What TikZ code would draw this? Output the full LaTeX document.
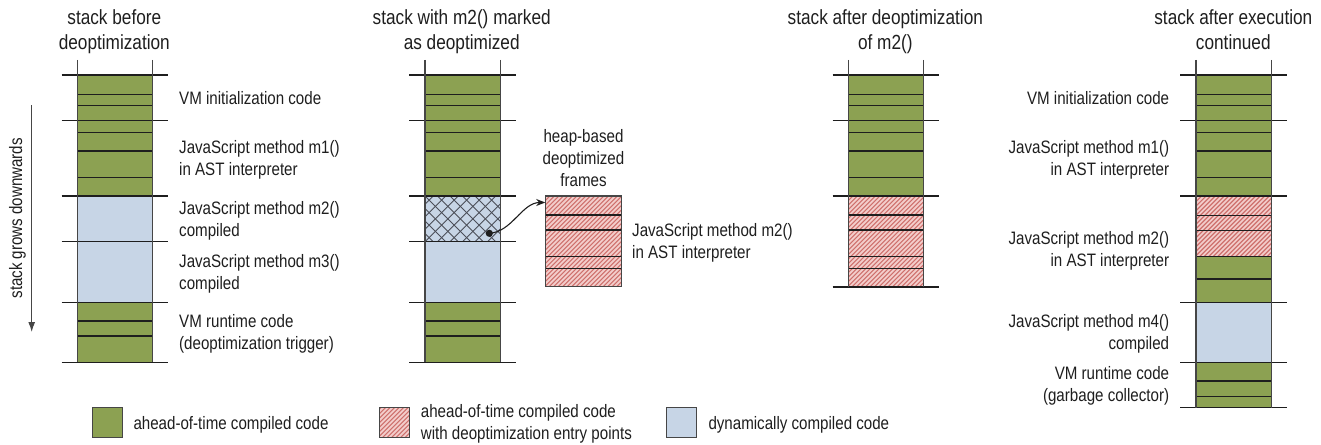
\documentclass[tikz,border=0pt]{standalone}
\usepackage{fontspec}
\setmainfont{Liberation Sans}[FakeStretch=0.84]
\usetikzlibrary{arrows.meta}
\definecolor{gfill}{RGB}{140,161,82}
\definecolor{bfill}{RGB}{199,213,230}
\definecolor{pfill}{RGB}{243,205,203}
\definecolor{pstripe}{RGB}{206,112,108}
\definecolor{xline}{RGB}{75,78,88}
\definecolor{ink}{RGB}{30,30,30}
\definecolor{side}{RGB}{70,70,70}
\newcommand\hatchbox[4]{% xl, yt, xr, yb
  \fill[pfill] (#1,#2) rectangle (#3,#4);
  \begin{scope}
    \clip (#1,#2) rectangle (#3,#4);
    \foreach \k in {-100,-95.5,...,85} \draw[pstripe,line width=1.1pt] (#1+\k,#4) -- ++(110,-110);
  \end{scope}}
\newcommand\crossbox[4]{%
  \fill[bfill] (#1,#2) rectangle (#3,#4);
  \begin{scope}
    \clip (#1,#2) rectangle (#3,#4);
    \foreach \k in {-62.5,-50,...,87.5} {
      \draw[xline,line width=0.9pt] (#1+\k,#4) -- ++(70,-70);
      \draw[xline,line width=0.9pt] (#1+\k,#2) -- ++(70,70);}
  \end{scope}}
\tikzset{
  lab/.style={inner sep=0pt,font=\fontsize{18}{22}\selectfont,text=ink},
  ttl/.style={inner sep=0pt,font=\fontsize{20.5}{25.5}\selectfont,text=ink,align=center,anchor=base},
  inl/.style={ink,line width=1.2pt},
  tick/.style={ink,line width=1.1pt},
  sideln/.style={side,line width=1.3pt},
  legbox/.style={draw=side,line width=1pt}
}
\begin{document}
\begin{tikzpicture}[x=1pt,y=-1pt]
\useasboundingbox (0,0) rectangle (1321,444);
% ---------- stack 1 ----------
\def\xl{77.3}\def\xr{152.7}\def\tl{61.7}\def\tr{168.3}
\fill[gfill] (\xl,75) rectangle (\xr,196);
\fill[bfill] (\xl,196) rectangle (\xr,302.3);
\fill[gfill] (\xl,302.3) rectangle (\xr,362.3);
\foreach \y in {94.3,105.3,132.3,151,177.7,321,336} \draw[inl] (\xl,\y) -- (\xr,\y);
\foreach \y in {75,120.7,196,241.7,302.3,362.3} \draw[tick] (\tl,\y) -- (\tr,\y);
\draw[sideln] (\xl,60) -- (\xl,362.3) (\xr,60) -- (\xr,362.3);
\node[ttl] (t1) at (114.3,50) {stack before\\deoptimization};
\node[lab,anchor=base west] (l1a) at (179,104.5) {VM initialization code};
\node[lab,anchor=base west,align=left] (l1b) at (179,175.5) {JavaScript method m1()\\in AST interpreter};
\node[lab,anchor=base west,align=left] (l1c) at (179,236.5) {JavaScript method m2()\\compiled};
\node[lab,anchor=base west,align=left] (l1d) at (179,289) {JavaScript method m3()\\compiled};
\node[lab,anchor=base west,align=left] (l1e) at (179,349) {VM runtime code\\(deoptimization trigger)};
% grows arrow
\coordinate (ga) at (31.7,105);
\coordinate (gb) at (31.7,332);
\draw[side,line width=1.1pt,-{Latex[length=10pt,width=7pt]}] (ga) -- (gb);
\node[lab,rotate=90] (grow) at (17.5,218.3) {stack grows downwards};
% ---------- stack 2 ----------
\def\xl{425}\def\xr{500.3}\def\tl{409.3}\def\tr{515.7}
\fill[gfill] (\xl,75) rectangle (\xr,196);
\crossbox{\xl}{196}{\xr}{241.7}
\fill[bfill] (\xl,241.7) rectangle (\xr,302.3);
\fill[gfill] (\xl,302.3) rectangle (\xr,362.3);
\foreach \y in {94.3,105.3,132.3,151,177.7,321,336} \draw[inl] (\xl,\y) -- (\xr,\y);
\foreach \y in {75,120.7,196,241.7,302.3,362.3} \draw[tick] (\tl,\y) -- (\tr,\y);
\draw[sideln] (\xl,60) -- (\xl,362.3) (\xr,60) -- (\xr,362.3);
\node[ttl] (t2) at (461.7,50) {stack with m2() marked\\as deoptimized};
% heap frames
\hatchbox{545.7}{196}{621.7}{286.7}
\foreach \y in {215,230,256.7,268.3} \draw[inl] (545.7,\y) -- (621.7,\y);
\draw[sideln] (545.7,196) rectangle (621.7,286.7);
\coordinate (heapin) at (545.2,202.5);
\node[lab,align=center,anchor=base] (heapl) at (583.5,186) {heap-based\\deoptimized\\frames};
\node[lab,anchor=base west,align=left] (l2) at (632,258) {JavaScript method m2()\\in AST interpreter};
\coordinate (dot) at (489.3,233.3);
\fill[ink] (dot) circle (3.6pt);
\draw[ink,line width=1.1pt,-{Stealth[length=9pt,width=7pt]}] (dot) .. controls (512,232) and (522,202.5) .. (heapin);
% ---------- stack 3 ----------
\def\xl{848.3}\def\xr{923.3}\def\tl{832.7}\def\tr{939}
\fill[gfill] (\xl,75) rectangle (\xr,196);
\hatchbox{\xl}{196}{\xr}{287}
\foreach \y in {94.3,105.3,132.3,151,177.7,215,230,256.7,268.3} \draw[inl] (\xl,\y) -- (\xr,\y);
\foreach \y in {75,120.7,196,287} \draw[tick] (\tl,\y) -- (\tr,\y);
\draw[sideln] (\xl,60) -- (\xl,287) (\xr,60) -- (\xr,287);
\node[ttl] (t3) at (885.3,50) {stack after deoptimization\\of m2()};
% ---------- stack 4 ----------
\def\xl{1196}\def\xr{1271.7}\def\tl{1180.3}\def\tr{1286.7}
\fill[gfill] (\xl,75) rectangle (\xr,196);
\hatchbox{\xl}{196}{\xr}{256.7}
\fill[gfill] (\xl,256.7) rectangle (\xr,302.3);
\fill[bfill] (\xl,302.3) rectangle (\xr,362.3);
\fill[gfill] (\xl,362.3) rectangle (\xr,407.7);
\foreach \y in {94.3,105.3,132.3,151,177.7,215.7,230.7,256.7,279,381,396.7} \draw[inl] (\xl,\y) -- (\xr,\y);
\foreach \y in {75,120.7,196,302.3,362.3,407.7} \draw[tick] (\tl,\y) -- (\tr,\y);
\draw[sideln] (\xl,60) -- (\xl,407.7) (\xr,60) -- (\xr,407.7);
\node[ttl] (t4) at (1233.3,50) {stack after execution\\continued};
\node[lab,anchor=base east] (l4a) at (1169.3,104.5) {VM initialization code};
\node[lab,anchor=base east,align=right] (l4b) at (1169.3,175) {JavaScript method m1()\\in AST interpreter};
\node[lab,anchor=base east,align=right] (l4c) at (1169.3,266.5) {JavaScript method m2()\\in AST interpreter};
\node[lab,anchor=base east,align=right] (l4d) at (1169.3,349.7) {JavaScript method m4()\\compiled};
\node[lab,anchor=base east,align=right] (l4e) at (1169.3,401.7) {VM runtime code\\(garbage collector)};
% ---------- legend ----------
\fill[gfill] (92.3,407.3) rectangle (122.3,437.3);
\draw[legbox] (92.3,407.3) rectangle (122.3,437.3);
\node[lab,anchor=base west] (lg1) at (133.3,429) {ahead-of-time compiled code};
\hatchbox{379.3}{407.3}{409.3}{437.3}
\draw[legbox] (379.3,407.3) rectangle (409.3,437.3);
\node[lab,anchor=base west,align=left] (lg2) at (420.7,439) {ahead-of-time compiled code\\with deoptimization entry points};
\fill[bfill] (666.7,407.3) rectangle (696.7,437.3);
\draw[legbox] (666.7,407.3) rectangle (696.7,437.3);
\node[lab,anchor=base west] (lg3) at (708.3,429) {dynamically compiled code};
\end{tikzpicture}
\end{document}
